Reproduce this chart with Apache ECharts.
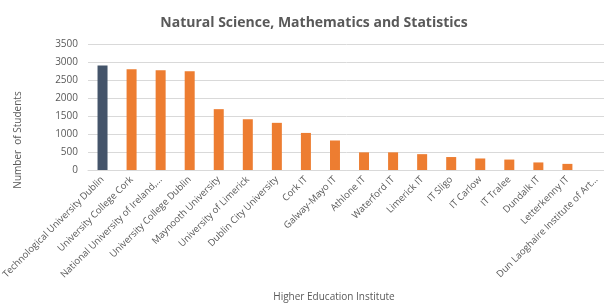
<!DOCTYPE html>
<html>
<head>
<meta charset="utf-8">
<script src="https://cdn.jsdelivr.net/npm/echarts@6/dist/echarts.min.js"></script>
<style>
  html, body { margin: 0; padding: 0; background: #fff; }
  #chart { width: 604px; height: 306px; }
</style>
</head>
<body>
<div id="chart"></div>
<script>
  var institutes = ["Technological University Dublin", "University College Cork", "National University of Ireland,...",
    "University College Dublin", "Maynooth University", "University of Limerick", "Dublin City University",
    "Cork IT", "Galway-Mayo IT", "Athlone IT", "Waterford IT", "Limerick IT", "IT Sligo", "IT Carlow",
    "IT Tralee", "Dundalk IT", "Letterkenny IT", "Dun Laoghaire Institute of Art..."];
  var students = [2900, 2800, 2770, 2740, 1690, 1410, 1310, 1030, 820, 490, 490, 440, 360, 320, 290, 210, 170, 0];
  var highlightIndex = 0;

  var chart = echarts.init(document.getElementById('chart'));
  var font = '"Open Sans", "Noto Sans", sans-serif';

  chart.setOption({
    animation: false,
    textStyle: { fontFamily: font },
    title: {
      text: 'Natural Science, Mathematics and Statistics',
      left: 309,
      textAlign: 'center',
      top: 11,
      textStyle: { color: '#595959', fontSize: 14, fontWeight: 'bold', fontFamily: font }
    },
    grid: { left: 88, top: 44, width: 523, height: 126, outerBoundsMode: 'none', containLabel: false },
    xAxis: {
      type: 'category',
      data: institutes,
      axisLine: { lineStyle: { color: '#d9d9d9' } },
      axisTick: { show: false },
      axisLabel: { rotate: 45, interval: 0, color: '#595959', fontSize: 9.5, margin: 8, fontFamily: font }
    },
    yAxis: {
      type: 'value',
      min: 0,
      max: 3500,
      interval: 500,
      axisLabel: {
        color: '#595959', fontSize: 10, margin: 10, fontFamily: font,
        formatter: function (v) { return String(v); }
      },
      splitLine: { lineStyle: { color: '#d9d9d9' } }
    },
    graphic: [{
      type: 'text',
      x: 18, y: 140,
      rotation: Math.PI / 2,
      style: { text: 'Number  of Students', fill: '#595959', font: '10px ' + font, align: 'center', verticalAlign: 'middle' }
    }, {
      type: 'text',
      x: 334, y: 297,
      style: { text: 'Higher Education Institute', fill: '#595959', font: '10px ' + font, align: 'center', verticalAlign: 'middle' }
    }],
    series: [{
      type: 'bar',
      barWidth: 10,
      data: students,
      itemStyle: {
        color: function (p) { return p.dataIndex === highlightIndex ? '#44546A' : '#ED7D31'; }
      }
    }]
  });
</script>
</body>
</html>
